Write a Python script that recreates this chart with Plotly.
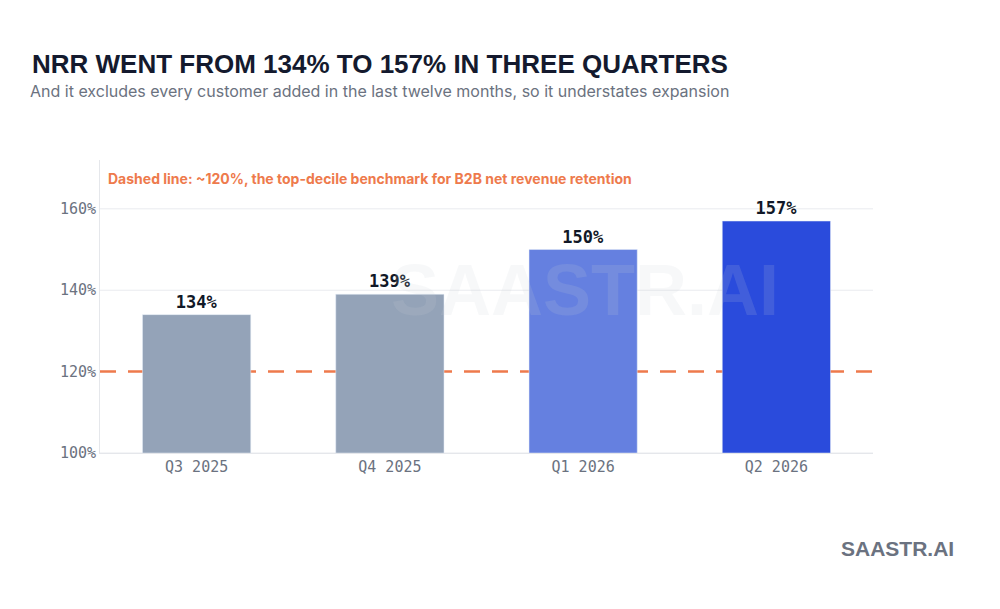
import plotly.graph_objects as go

quarters = ["Q3 2025", "Q4 2025", "Q1 2026", "Q2 2026"]
nrr = [134, 139, 150, 157]
bar_colors = ["#94a3b8", "#94a3b8", "#6580e0", "#2a4bdc"]
benchmark = 120
tick_vals = [100, 120, 140, 160]
tick_text = ["100%", "120%", "140%", "160%"]

H = 293.0
def py(p):  # screen pixel row -> paper y
    return (453 - p) / H

fig = go.Figure()
fig.add_trace(go.Bar(
    x=quarters, y=[v - 100 for v in nrr], base=100, marker_color=bar_colors, width=0.56,
    text=[f"<b>{v}%</b>" for v in nrr], textposition="outside", cliponaxis=False,
    textfont=dict(family="DejaVu Sans Mono", size=17, color="#111827"),
    hoverinfo="skip"))
for g in tick_vals:
    if g != benchmark:
        fig.add_shape(type="line", xref="paper", x0=0, x1=1, y0=g, y1=g,
                      line=dict(color="#e9ebef", width=1), layer="below")
fig.add_shape(type="line", xref="paper", x0=0, x1=1, y0=benchmark, y1=benchmark,
              line=dict(color="#ee7a4c", width=2.5, dash="16px,12px"), layer="below")

fig.update_layout(
    width=1000, height=609, paper_bgcolor="white", plot_bgcolor="white",
    margin=dict(l=92, r=135, t=152, b=164, autoexpand=False), showlegend=False,
    xaxis=dict(showline=True, linecolor="#e5e7eb", tickfont=dict(family="DejaVu Sans Mono", size=15, color="#6b7280"), ticks=""),
    yaxis=dict(range=[100, 172], tickvals=tick_vals, ticktext=tick_text, showgrid=False,
               showline=True, linecolor="#e5e7eb",
               tickfont=dict(family="DejaVu Sans Mono", size=15, color="#6b7280"), zeroline=False),
    annotations=[
        dict(text="<b>NRR WENT FROM 134% TO 157% IN THREE QUARTERS</b>", xref="paper", yref="paper", x=-0.091, y=py(64), xanchor="left", yanchor="middle",
             showarrow=False, font=dict(family="Liberation Sans", size=26, color="#141a2e")),
        dict(text="And it excludes every customer added in the last twelve months, so it understates expansion", xref="paper", yref="paper",
             x=-0.093, y=py(91), xanchor="left", yanchor="middle", showarrow=False,
             font=dict(family="Inter", size=16, color="#6b7280")),
        dict(text="<b>Dashed line: ~120%, the top-decile benchmark for B2B net revenue retention</b>", xref="paper", yref="paper",
             x=0.008, y=py(178), xanchor="left", yanchor="middle", showarrow=False,
             font=dict(family="Inter", size=14, color="#ee7a4c")),
        dict(text="<b>SAASTR.AI</b>", xref="paper", yref="paper", x=0.627, y=py(290), showarrow=False,
             font=dict(family="Liberation Sans", size=72, color="rgba(200,205,212,0.15)")),
        dict(text="<b>SAASTR.AI</b>", xref="paper", yref="paper", x=1.032, y=py(548), xanchor="center", yanchor="middle", showarrow=False,
             font=dict(family="Liberation Sans", size=21, color="#6b7280")),
    ],
)
fig.write_html("out.html")
